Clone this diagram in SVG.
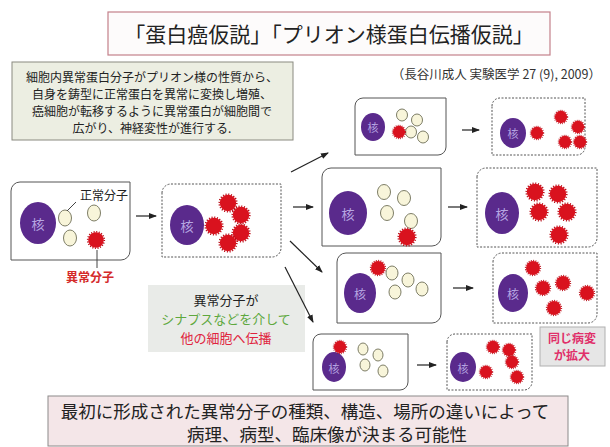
<svg xmlns="http://www.w3.org/2000/svg" xmlns:xlink="http://www.w3.org/1999/xlink" width="610" height="447" viewBox="0 0 610 447">
  <style>
    .jp { font-family: "Noto Sans CJK JP", "Noto Sans", sans-serif; }
    .cell { fill: #ffffff; stroke: #555; stroke-width: 1; }
    .cell.after { stroke-dasharray: 2 1.5; }
    .nuc { fill: #5a2a8c; }
    .nuclbl { fill: #b7a7e2; font-family: "Noto Sans CJK JP", sans-serif; text-anchor: middle; dominant-baseline: central; }
    .norm { fill: #f8f5da; stroke: #7d7d66; stroke-width: 1; }
    .conn { stroke: #222; stroke-width: 1.2; fill: none; }
    .lead { stroke: #444; stroke-width: 1; fill: none; }
  </style>
  <defs>
    <marker id="ah" viewBox="0 0 8 6" refX="7" refY="3" markerWidth="8" markerHeight="6" orient="auto" markerUnits="userSpaceOnUse">
      <path d="M0,0 L8,3 L0,6 z" fill="#222"/>
    </marker>
    <!-- misfolded molecule: red disc with a toothed rim -->
    <g id="ab">
      <circle r="8.7" fill="none" stroke="#b80d18" stroke-width="1.8" stroke-dasharray="1.1 1.63"/>
      <circle r="8.2" fill="#d9121e"/>
    </g>
  </defs>

  <rect width="610" height="447" fill="#ffffff"/>

  <!-- title -->
  <g id="title">
    <rect x="108" y="12" width="442" height="43" fill="#fdfbfb" stroke="#c4808a" stroke-width="1.2"/>
    <text x="329" y="42" class="jp" font-size="21" fill="#222" text-anchor="middle">「蛋白癌仮説」「プリオン様蛋白伝播仮説」</text>
  </g>

  <g id="citation">
    <text x="601" y="79" class="jp" font-size="12.5" fill="#333" text-anchor="end">（長谷川成人 実験医学 27 (9), 2009）</text>
  </g>

  <!-- summary box -->
  <g id="summary">
    <rect x="12" y="62" width="281" height="78" fill="#eceee2" stroke="#8a8a80" stroke-width="1"/>
    <g class="jp" font-size="12" fill="#222" text-anchor="middle">
      <text x="152" y="82">細胞内異常蛋白分子がプリオン様の性質から、</text>
      <text x="152" y="99">自身を鋳型に正常蛋白を異常に変換し増殖、</text>
      <text x="152" y="116">癌細胞が転移するように異常蛋白が細胞間で</text>
      <text x="152" y="133">広がり、神経変性が進行する.</text>
    </g>
  </g>

  <!-- initial cell -->
  <g id="cell-initial">
    <path class="cell" d="M11 191 A9 9 0 0 1 20 182 H130 V251 A9 9 0 0 1 121 260 H11 Z"/>
    <ellipse class="nuc" cx="38" cy="223" rx="18" ry="21"/>
    <text class="nuclbl" x="38" y="223" font-size="13">核</text>
    <ellipse class="norm" cx="65" cy="218" rx="6.5" ry="8"/>
    <ellipse class="norm" cx="94" cy="213" rx="6.5" ry="8"/>
    <ellipse class="norm" cx="70" cy="238" rx="6.5" ry="8"/>
    <use xlink:href="#ab" transform="translate(96 240) scale(0.95)"/>
    <text x="104" y="200" class="jp" font-size="12" fill="#222" text-anchor="middle">正常分子</text>
  </g>
  <g id="label-abnormal">
    <text x="90" y="282" class="jp" font-size="12" fill="#d42a2a" text-anchor="middle" font-weight="bold">異常分子</text>
  </g>

  <!-- cell with first conversions -->
  <g id="cell-converted">
    <path class="cell after" d="M162 193 A9 9 0 0 1 171 184 H281 V248 A9 9 0 0 1 272 257 H162 Z"/>
    <ellipse class="nuc" cx="187" cy="225" rx="17" ry="20"/>
    <text class="nuclbl" x="187" y="225" font-size="13">核</text>
    <use xlink:href="#ab" transform="translate(214 226)"/>
    <use xlink:href="#ab" transform="translate(228 203)"/>
    <use xlink:href="#ab" transform="translate(241 215)"/>
    <use xlink:href="#ab" transform="translate(241 233)"/>
    <use xlink:href="#ab" transform="translate(228 243)"/>
  </g>

  <!-- branch 1 -->
  <g id="cell-c1">
    <path class="cell" d="M355 106 A8 8 0 0 1 363 98 H446 V147 A8 8 0 0 1 438 155 H355 Z"/>
    <ellipse class="nuc" cx="373" cy="127" rx="12" ry="14"/>
    <text class="nuclbl" x="373" y="127" font-size="11">核</text>
    <ellipse class="norm" cx="402" cy="115" rx="5.5" ry="6"/>
    <ellipse class="norm" cx="417" cy="120" rx="5.5" ry="6"/>
    <ellipse class="norm" cx="411" cy="132" rx="5.5" ry="6"/>
    <ellipse class="norm" cx="423" cy="137" rx="5.5" ry="6"/>
    <use xlink:href="#ab" transform="translate(399 132) scale(0.75)"/>
  </g>
  <g id="cell-c2">
    <path class="cell after" d="M492 106 A8 8 0 0 1 500 98 H585 V147 A8 8 0 0 1 577 155 H492 Z"/>
    <ellipse class="nuc" cx="513" cy="133" rx="13" ry="15"/>
    <text class="nuclbl" x="513" y="133" font-size="11">核</text>
    <use xlink:href="#ab" transform="translate(537 133) scale(0.75)"/>
    <use xlink:href="#ab" transform="translate(561 117) scale(0.75)"/>
    <use xlink:href="#ab" transform="translate(578 127) scale(0.75)"/>
    <use xlink:href="#ab" transform="translate(565 142) scale(0.75)"/>
    <use xlink:href="#ab" transform="translate(580 142) scale(0.75)"/>
  </g>

  <!-- branch 2 -->
  <g id="cell-d1">
    <path class="cell" d="M322 177 A9 9 0 0 1 331 168 H441 V237 A9 9 0 0 1 432 246 H322 Z"/>
    <ellipse class="nuc" cx="348" cy="213" rx="19" ry="22"/>
    <text class="nuclbl" x="348" y="213" font-size="13">核</text>
    <ellipse class="norm" cx="384" cy="192" rx="6.5" ry="7.5"/>
    <ellipse class="norm" cx="404" cy="198" rx="6.5" ry="7.5"/>
    <ellipse class="norm" cx="387" cy="213" rx="6.5" ry="7.5"/>
    <ellipse class="norm" cx="411" cy="221" rx="6.5" ry="7.5"/>
    <use xlink:href="#ab" transform="translate(407 237)"/>
  </g>
  <g id="cell-d2">
    <path class="cell after" d="M477 177 A9 9 0 0 1 486 168 H597 V238 A9 9 0 0 1 588 247 H477 Z"/>
    <ellipse class="nuc" cx="502" cy="213" rx="17" ry="21"/>
    <text class="nuclbl" x="502" y="213" font-size="13">核</text>
    <use xlink:href="#ab" transform="translate(535 192)"/>
    <use xlink:href="#ab" transform="translate(558 194)"/>
    <use xlink:href="#ab" transform="translate(539 212)"/>
    <use xlink:href="#ab" transform="translate(567 212)"/>
    <use xlink:href="#ab" transform="translate(559 235)"/>
  </g>

  <!-- branch 3 -->
  <g id="cell-e1">
    <path class="cell" d="M337 262 A9 9 0 0 1 346 253 H441 V314 A9 9 0 0 1 432 323 H337 Z"/>
    <ellipse class="nuc" cx="360" cy="293" rx="16" ry="20"/>
    <text class="nuclbl" x="360" y="293" font-size="12">核</text>
    <ellipse class="norm" cx="392" cy="273" rx="6" ry="7"/>
    <ellipse class="norm" cx="408" cy="280" rx="6" ry="7"/>
    <ellipse class="norm" cx="395" cy="292" rx="6" ry="7"/>
    <ellipse class="norm" cx="422" cy="289" rx="6" ry="7"/>
    <use xlink:href="#ab" transform="translate(378 268) scale(0.85)"/>
  </g>
  <g id="cell-e2">
    <path class="cell after" d="M493 262 A9 9 0 0 1 502 253 H597 V314 A9 9 0 0 1 588 323 H493 Z"/>
    <ellipse class="nuc" cx="513" cy="293" rx="15" ry="19"/>
    <text class="nuclbl" x="513" y="293" font-size="12">核</text>
    <use xlink:href="#ab" transform="translate(533 268) scale(0.85)"/>
    <use xlink:href="#ab" transform="translate(543 288) scale(0.85)"/>
    <use xlink:href="#ab" transform="translate(563 283) scale(0.85)"/>
    <use xlink:href="#ab" transform="translate(587 293) scale(0.85)"/>
    <use xlink:href="#ab" transform="translate(554 308) scale(0.85)"/>
  </g>
  <g id="label-spread">
    <rect x="540" y="327" width="65" height="39" fill="#e6e6e6" stroke="#b0b0b0" stroke-width="1"/>
    <g class="jp" font-size="12" font-weight="bold" fill="#e0306a" text-anchor="middle">
      <text x="572" y="343">同じ病変</text>
      <text x="572" y="360">が拡大</text>
    </g>
  </g>

  <!-- branch 4 -->
  <g id="cell-f1">
    <path class="cell" d="M313 342 A8 8 0 0 1 321 334 H408 V382 A8 8 0 0 1 400 390 H313 Z"/>
    <ellipse class="nuc" cx="334" cy="367" rx="12" ry="15"/>
    <text class="nuclbl" x="334" y="368" font-size="11">核</text>
    <ellipse class="norm" cx="363" cy="349" rx="5" ry="6"/>
    <ellipse class="norm" cx="378" cy="355" rx="5" ry="6"/>
    <ellipse class="norm" cx="365" cy="365" rx="5" ry="6"/>
    <ellipse class="norm" cx="383" cy="371" rx="5" ry="6"/>
    <use xlink:href="#ab" transform="translate(340 347) scale(0.75)"/>
  </g>
  <g id="cell-f2">
    <path class="cell after" d="M447 342 A8 8 0 0 1 455 334 H532 V382 A8 8 0 0 1 524 390 H447 Z"/>
    <ellipse class="nuc" cx="463" cy="367" rx="13" ry="15"/>
    <text class="nuclbl" x="463" y="368" font-size="11">核</text>
    <use xlink:href="#ab" transform="translate(486 372) scale(0.75)"/>
    <use xlink:href="#ab" transform="translate(493 347) scale(0.75)"/>
    <use xlink:href="#ab" transform="translate(509 350) scale(0.75)"/>
    <use xlink:href="#ab" transform="translate(512 362) scale(0.75)"/>
    <use xlink:href="#ab" transform="translate(517 377) scale(0.75)"/>
  </g>

  <!-- propagation note -->
  <g id="note-propagation">
    <rect x="148" y="285" width="157" height="67" fill="#e9ebe8"/>
    <g class="jp" font-size="13" text-anchor="middle">
      <text x="226" y="305" fill="#222">異常分子が</text>
      <text x="226" y="324" fill="#5ea83e">シナプスなどを介して</text>
      <text x="226" y="343" fill="#e0243e">他の細胞へ伝播</text>
    </g>
  </g>

  <!-- conclusion -->
  <g id="conclusion">
    <rect x="48" y="396" width="520" height="50" fill="#f4e6e8" stroke="#8c8a8a" stroke-width="1"/>
    <g class="jp" font-size="17.5" fill="#222" text-anchor="middle">
      <text x="305" y="418">最初に形成された異常分子の種類、構造、場所の違いによって</text>
      <text x="327" y="441">病理、病型、臨床像が決まる可能性</text>
    </g>
  </g>

  <!-- connectors -->
  <g id="connectors">
    <line class="lead" x1="67" y1="211" x2="76" y2="202"/>
    <line class="lead" x1="97" y1="250" x2="97" y2="268"/>
    <line class="conn" x1="136" y1="216" x2="156" y2="216" marker-end="url(#ah)"/>
    <line class="conn" x1="291" y1="172" x2="328" y2="153" marker-end="url(#ah)"/>
    <line class="conn" x1="293" y1="207" x2="313" y2="207" marker-end="url(#ah)"/>
    <line class="conn" x1="290" y1="241" x2="322" y2="272" marker-end="url(#ah)"/>
    <line class="conn" x1="285" y1="267" x2="313" y2="322" marker-end="url(#ah)"/>
    <line class="conn" x1="462" y1="130" x2="479" y2="130" marker-end="url(#ah)"/>
    <line class="conn" x1="448" y1="207" x2="467" y2="207" marker-end="url(#ah)"/>
    <line class="conn" x1="453" y1="288" x2="473" y2="288" marker-end="url(#ah)"/>
    <line class="conn" x1="417" y1="365" x2="436" y2="365" marker-end="url(#ah)"/>
  </g>
</svg>
